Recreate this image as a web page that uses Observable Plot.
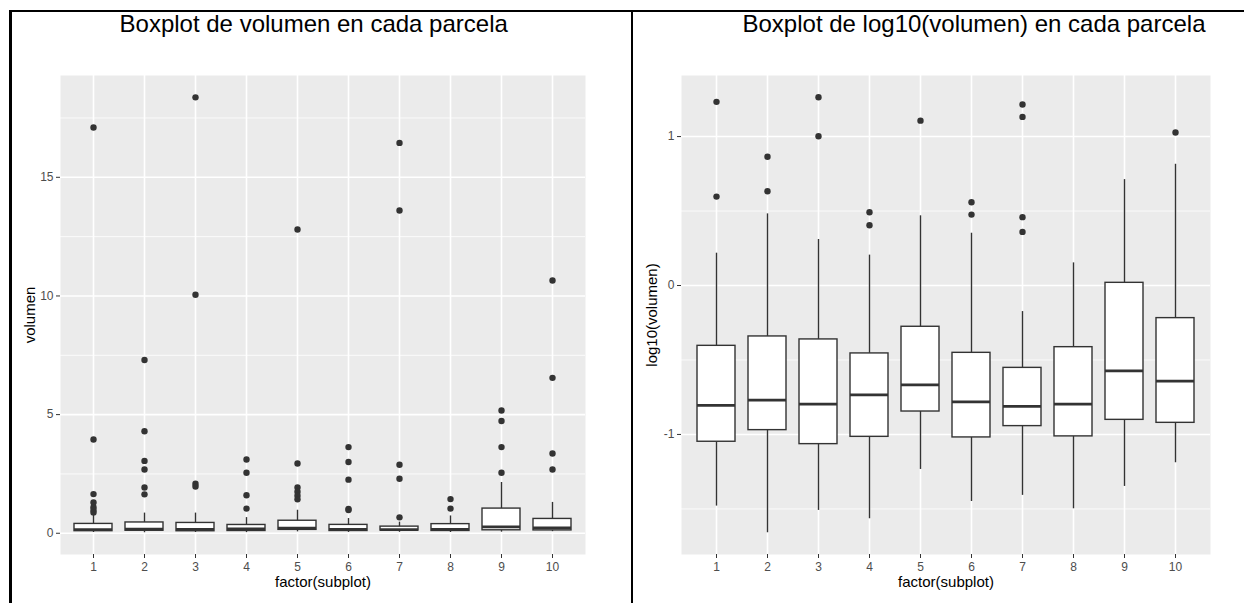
<!DOCTYPE html>
<html><head><meta charset="utf-8">
<script src="https://cdn.jsdelivr.net/npm/d3@7"></script>
<script src="https://cdn.jsdelivr.net/npm/@observablehq/plot@0.6"></script>
<style>
body{margin:0;background:#fff;}
#wrap{position:relative;width:1244px;height:603px;overflow:hidden;background:#fff;font-family:"Liberation Sans",Arial,Helvetica,sans-serif;}
.panel{position:absolute;top:0;}
.title{position:absolute;top:12px;font-size:24px;line-height:24px;white-space:nowrap;transform:translateX(-50%);color:#000;}
.line{position:absolute;background:#000;}
#wrap svg g[aria-label*="tick label"], #wrap svg g[aria-label*="tick label"] text{font-size:12px !important;fill:#4D4D4D;}
</style></head><body>
<div id="wrap"></div>
<script>
// ---- data ----
const categories = ["1","2","3","4","5","6","7","8","9","10"];

// Left panel: volumen (raw)
const volTicks = [0, 5, 10, 15];
const volMinor = [2.5, 7.5, 12.5, 17.5];
const volQ1  = [0.089, 0.107, 0.086, 0.096, 0.143, 0.096, 0.114, 0.097, 0.125, 0.120];
const volMed = [0.157, 0.170, 0.160, 0.185, 0.215, 0.166, 0.154, 0.160, 0.267, 0.228];
const volQ3  = [0.394, 0.455, 0.435, 0.350, 0.528, 0.353, 0.280, 0.385, 1.040, 0.604];
const volLo  = [0.033, 0.022, 0.031, 0.027, 0.058, 0.035, 0.039, 0.032, 0.045, 0.065];
const volHi  = [0.80, 0.85, 0.85, 0.66, 0.97, 0.62, 0.47, 0.73, 2.14, 1.30];
const volOutliers = [
  [17.1, 3.95, 1.65, 1.30, 1.10, 0.98, 0.88],
  [7.3, 4.30, 3.05, 2.69, 1.93, 1.64],
  [18.37, 10.05, 2.09, 1.97],
  [3.11, 2.55, 1.60, 1.04],
  [12.8, 2.94, 1.93, 1.75, 1.58, 1.43],
  [3.63, 3.00, 2.26, 1.02, 0.98],
  [16.45, 13.6, 2.89, 2.30, 0.67],
  [1.44, 1.04],
  [5.17, 4.73, 3.63, 2.55],
  [10.65, 6.55, 3.36, 2.69]
];

// Right panel: log10(volumen)
const logTicks = [-1, 0, 1];
const logMinor = [-1.5, -0.5, 0.5];
const logQ1  = [-1.049, -0.971, -1.065, -1.016, -0.846, -1.020, -0.944, -1.013, -0.902, -0.922];
const logMed = [-0.805, -0.770, -0.796, -0.734, -0.667, -0.781, -0.812, -0.796, -0.573, -0.642];
const logQ3  = [-0.405, -0.342, -0.362, -0.456, -0.277, -0.452, -0.553, -0.414, 0.018, -0.219];
const logLo  = [-1.481, -1.660, -1.510, -1.566, -1.235, -1.450, -1.409, -1.499, -1.349, -1.190];
const logHi  = [0.217, 0.481, 0.309, 0.204, 0.468, 0.351, -0.175, 0.152, 0.711, 0.814];
const logOutliers = [
  [1.233, 0.597],
  [0.864, 0.633],
  [1.264, 1.002],
  [0.492, 0.405],
  [1.107],
  [0.559, 0.476],
  [1.215, 1.132, 0.459, 0.360],
  [],
  [],
  [1.027]
];

const titles = ["Boxplot de volumen en cada parcela", "Boxplot de log10(volumen) en cada parcela"];
const xTitle = "factor(subplot)";
const yTitles = ["volumen", "log10(volumen)"];

// ---- drawing ----
function panel({width, marginLeft, marginRight, domain, ticks, minor, q1, med, q3, lo, hi, outliers, yTitle, yTitleDx}) {
  const rows = categories.map((c, i) => ({c, q1: q1[i], med: med[i], q3: q3[i], lo: lo[i], hi: hi[i]}));
  const outRows = categories.flatMap((c, i) => outliers[i].map(v => ({c, v})));
  const ink = "#333333";
  return Plot.plot({
    width, height: 603,
    marginTop: 75, marginBottom: 49, marginLeft, marginRight,
    x: {type: "band", domain: categories, paddingInner: 0.25, paddingOuter: 0.225},
    y: {domain},
    style: "background: transparent; overflow: visible; font-family: 'Liberation Sans', Arial, Helvetica, sans-serif; font-size: 12px; color: #000;",
    marks: [
      Plot.frame({fill: "#EBEBEB", stroke: "none"}),
      Plot.ruleY(minor, {y: d => d, stroke: "white", strokeWidth: 0.8}),
      Plot.ruleY(ticks, {y: d => d, stroke: "white", strokeWidth: 1.6}),
      Plot.ruleX(categories, {x: d => d, stroke: "white", strokeWidth: 1.6}),
      Plot.ruleX(rows, {x: "c", y1: "q3", y2: "hi", stroke: ink, strokeWidth: 1.4}),
      Plot.ruleX(rows, {x: "c", y1: "lo", y2: "q1", stroke: ink, strokeWidth: 1.4}),
      Plot.barY(rows, {x: "c", y1: "q1", y2: "q3", fill: "white", stroke: ink, strokeWidth: 1.4}),
      Plot.tickY(rows, {x: "c", y: "med", stroke: ink, strokeWidth: 2.8}),
      Plot.dot(outRows, {x: "c", y: "v", r: 3.2, fill: ink, stroke: "none"}),
      Plot.axisX({tickSize: 4, tickPadding: 4, stroke: ink, fill: "#4D4D4D", fontSize: 12, label: null}),
      Plot.axisY({ticks, tickFormat: d => `${d}`, tickSize: 4, tickPadding: 3, stroke: ink, fill: "#4D4D4D", fontSize: 12, label: null}),
      Plot.text([xTitle], {text: d => d, frameAnchor: "bottom", dy: 32, fontSize: 15, fill: "#000"}),
      Plot.text([yTitle], {text: d => d, frameAnchor: "left", textAnchor: "middle", dx: yTitleDx, rotate: -90, fontSize: 15, fill: "#000"})
    ]
  });
}

const wrap = document.getElementById("wrap");

const left = document.createElement("div");
left.className = "panel"; left.style.left = "0px"; left.style.width = "632px";
left.appendChild(panel({
  width: 632, marginLeft: 60, marginRight: 47,
  domain: [-0.895, 19.29], ticks: volTicks, minor: volMinor,
  q1: volQ1, med: volMed, q3: volQ3, lo: volLo, hi: volHi, outliers: volOutliers,
  yTitle: yTitles[0], yTitleDx: -30
}));
wrap.appendChild(left);

const right = document.createElement("div");
right.className = "panel"; right.style.left = "632px"; right.style.width = "612px";
right.appendChild(panel({
  width: 612, marginLeft: 49, marginRight: 34,
  domain: [-1.806, 1.41], ticks: logTicks, minor: logMinor,
  q1: logQ1, med: logMed, q3: logQ3, lo: logLo, hi: logHi, outliers: logOutliers,
  yTitle: yTitles[1], yTitleDx: -29
}));
wrap.appendChild(right);

[[titles[0], 313.7], [titles[1], 974]].forEach(([t, cx]) => {
  const d = document.createElement("div");
  d.className = "title"; d.textContent = t; d.style.left = cx + "px";
  wrap.appendChild(d);
});

// table borders
[[9, 10, 1235, 2], [9, 10, 3, 593], [631, 10, 2, 593]].forEach(([l, t, w, h]) => {
  const d = document.createElement("div");
  d.className = "line";
  Object.assign(d.style, {left: l + "px", top: t + "px", width: w + "px", height: h + "px"});
  wrap.appendChild(d);
});
</script>
</body></html>
